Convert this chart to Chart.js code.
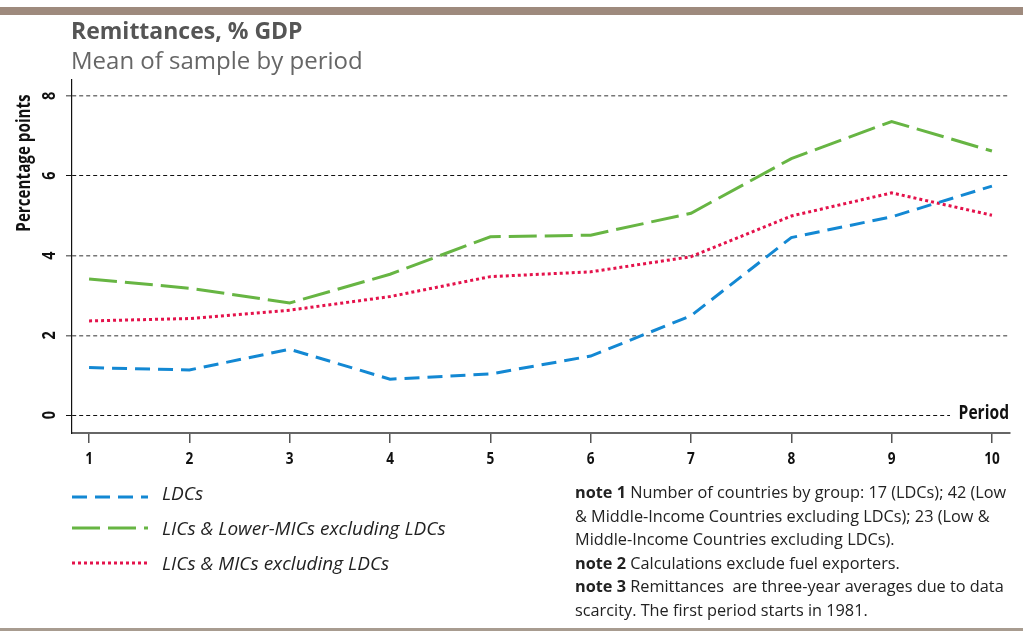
<!DOCTYPE html>
<html>
<head>
<meta charset="utf-8">
<script src="https://cdn.jsdelivr.net/npm/chart.js@4.4.1/dist/chart.umd.min.js"></script>
<style>
  html, body { margin: 0; padding: 0; background: #fff; }
  #wrap { position: relative; width: 1023px; height: 631px; overflow: hidden; font-family: "Open Sans", "Noto Sans", sans-serif; }
  #c { position: absolute; left: 0; top: 0; }
  .abs { position: absolute; white-space: nowrap; }
  #topbar { position: absolute; left: 0; top: 7px; width: 1023px; height: 8px; background: #9e8a7d; }
  #botbar { position: absolute; left: 0; top: 628px; width: 1023px; height: 3px; background: #a89c90; }
  #title { left: 71px; top: 19px; font-size: 23px; line-height: 1; font-weight: 700; color: #555; }
  #subtitle { left: 71px; top: 48px; font-size: 24px; line-height: 1; color: #666; }
  .leg { left: 162px; font-size: 19px; font-style: italic; color: #222; line-height: 24px; }
  #notes { left: 575px; top: 481px; font-size: 16.3px; line-height: 23.6px; color: #222; }
  #notes b { font-weight: 700; }
</style>
</head>
<body>
<div id="wrap">
  <canvas id="c" width="1023" height="631"></canvas>
  <div id="topbar"></div>
  <div id="botbar"></div>
  <div class="abs" id="title">Remittances, % GDP</div>
  <div class="abs" id="subtitle">Mean of sample by period</div>
  <div class="abs leg" style="top:481px">LDCs</div>
  <div class="abs leg" style="top:516px">LICs &amp; Lower-MICs excluding LDCs</div>
  <div class="abs leg" style="top:551px">LICs &amp; MICs excluding LDCs</div>
  <div class="abs" id="notes">
    <div><b>note 1</b> Number of countries by group: 17 (LDCs); 42 (Low</div>
    <div>&amp; Middle-Income Countries excluding LDCs); 23 (Low &amp;</div>
    <div>Middle-Income Countries excluding LDCs).</div>
    <div><b>note 2</b> Calculations exclude fuel exporters.</div>
    <div><b>note 3</b> Remittances&nbsp; are three-year averages due to data</div>
    <div>scarcity. The first period starts in 1981.</div>
  </div>
</div>
<script>
const periods = [1, 2, 3, 4, 5, 6, 7, 8, 9, 10];
const ldcs = [1.19, 1.13, 1.65, 0.90, 1.03, 1.48, 2.49, 4.45, 4.97, 5.74];
const licsLowerMics = [3.41, 3.18, 2.81, 3.53, 4.47, 4.51, 5.06, 6.43, 7.36, 6.62];
const licsMics = [2.36, 2.42, 2.63, 2.97, 3.47, 3.59, 3.97, 4.99, 5.57, 5.01];
const yTicks = [0, 2, 4, 6, 8];
const seriesNames = ["LDCs", "LICs & Lower-MICs excluding LDCs", "LICs & MICs excluding LDCs"];

const toPts = arr => arr.map((v, i) => ({ x: periods[i], y: v }));
const FONT = '"Open Sans", "Noto Sans", sans-serif';

const decorPlugin = {
  id: 'decor',
  afterDraw(chart) {
    const ctx = chart.ctx;
    const xs = chart.scales.x, ys = chart.scales.y;
    ctx.save();
    ctx.fillStyle = '#111';
    // x tick labels (slightly condensed)
    ctx.font = 'bold 16px ' + FONT;
    ctx.textAlign = 'center';
    ctx.textBaseline = 'middle';
    periods.forEach(p => {
      ctx.save();
      ctx.translate(xs.getPixelForValue(p), 459);
      ctx.scale(0.85, 1);
      ctx.fillText(String(p), 0, 0);
      ctx.restore();
    });
    // y tick labels rotated
    ctx.font = 'bold 17px ' + FONT;
    yTicks.forEach(v => {
      const y = ys.getPixelForValue(v);
      ctx.save();
      ctx.translate(50, y);
      ctx.rotate(-Math.PI / 2);
      ctx.scale(0.85, 1);
      ctx.textAlign = 'center';
      ctx.textBaseline = 'middle';
      ctx.fillText(String(v), 0, 0);
      ctx.restore();
    });
    // y axis title
    ctx.save();
    ctx.translate(25, 163);
    ctx.rotate(-Math.PI / 2);
    ctx.scale(0.8, 1);
    ctx.font = 'bold 19px ' + FONT;
    ctx.textAlign = 'center';
    ctx.textBaseline = 'middle';
    ctx.fillText('Percentage points', 0, 0);
    ctx.restore();
    // Period label
    const y0 = ys.getPixelForValue(0);
    ctx.fillStyle = '#fff';
    ctx.fillRect(950, y0 - 3, 70, 6);
    ctx.fillStyle = '#111';
    ctx.save();
    ctx.translate(1009, y0 - 2);
    ctx.scale(0.78, 1);
    ctx.font = 'bold 20px ' + FONT;
    ctx.textAlign = 'right';
    ctx.textBaseline = 'middle';
    ctx.fillText('Period', 0, 0);
    ctx.restore();
    // legend samples
    const legY = [497, 528, 563];
    chart.data.datasets.forEach((ds, i) => {
      ctx.beginPath();
      ctx.strokeStyle = ds.borderColor;
      ctx.lineWidth = ds.borderWidth;
      ctx.setLineDash(ds.borderDash || []);
      ctx.moveTo(72, legY[i]);
      ctx.lineTo(148, legY[i]);
      ctx.stroke();
    });
    ctx.restore();
  }
};

new Chart(document.getElementById('c'), {
  type: 'line',
  data: {
    datasets: [
      { label: seriesNames[0], data: toPts(ldcs), borderColor: '#1388d3', borderWidth: 3, borderDash: [15, 8], pointRadius: 0, fill: false, tension: 0 },
      { label: seriesNames[1], data: toPts(licsLowerMics), borderColor: '#67b543', borderWidth: 3, borderDash: [28, 8], pointRadius: 0, fill: false, tension: 0 },
      { label: seriesNames[2], data: toPts(licsMics), borderColor: '#e4124b', borderWidth: 3, borderDash: [3, 3], pointRadius: 0, fill: false, tension: 0 }
    ]
  },
  options: {
    responsive: false,
    animation: false,
    events: [],
    layout: { padding: { left: 66, right: 13, top: 80, bottom: 188 } },
    plugins: { legend: { display: false }, tooltip: { enabled: false }, title: { display: false } },
    scales: {
      x: {
        type: 'linear', min: 0.83, max: 10.18,
        afterBuildTicks: s => { s.ticks = periods.map(v => ({ value: v })); },
        ticks: { display: false },
        grid: { drawOnChartArea: false, drawTicks: true, tickLength: 10, color: '#555', lineWidth: 1.5 },
        border: { display: true, color: '#666', width: 2 }
      },
      y: {
        type: 'linear', min: -0.45, max: 8.4,
        afterBuildTicks: s => { s.ticks = yTicks.map(v => ({ value: v })); },
        ticks: { display: false },
        grid: {
          drawTicks: true, tickLength: 6,
          color: ctx => (ctx.tick && (ctx.tick.value === 6 || ctx.tick.value === 0)) ? '#111' : '#777',
          lineWidth: ctx => (ctx.tick && (ctx.tick.value === 6 || ctx.tick.value === 0)) ? 1 : 1.5,
          tickBorderDash: [0, 0]
        },
        border: { display: true, color: '#111', width: 1.2, dash: [4, 3] }
      }
    }
  },
  plugins: [decorPlugin]
});
</script>
</body>
</html>
